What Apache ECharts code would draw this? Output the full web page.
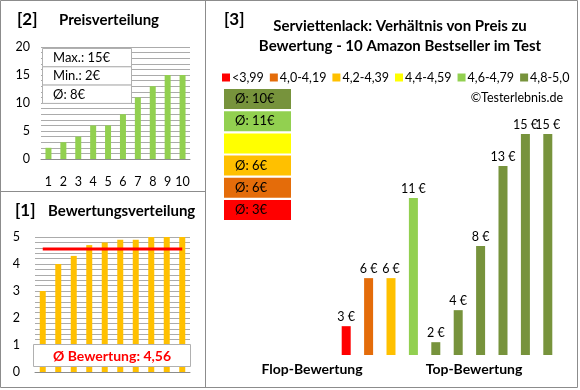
<!DOCTYPE html>
<html><head><meta charset="utf-8">
<script src="https://cdn.jsdelivr.net/npm/echarts@6/dist/echarts.min.js"></script>
<style>html,body{margin:0;padding:0;background:#fff}#c{width:580px;height:390px}</style>
</head><body><div id="c"></div>
<script>
const priceCats = ['1','2','3','4','5','6','7','8','9','10'];
const priceValues = [2,3,4,6,6,8,11,13,15,15];
const ratingValues = [3.0,4.0,4.3,4.7,4.8,4.9,4.9,5.0,5.0,5.0];
const mainPrices = [3,6,6,11,2,4,8,13,15,15];
const mainGroups = [0,1,2,4,5,5,5,5,5,5];
const groupNames = ['<3,99','4,0-4,19','4,2-4,39','4,4-4,59','4,6-4,79','4,8-5,0'];
const groupColors = ['#FF0000','#E46C0A','#FFC000','#FFFF00','#92D050','#77933C'];
const priceTicks = [0,5,10,15,20];
const ratingTicks = [0,1,2,3,4,5];

const FONT = 'Lato';
const maxP = Math.max(...priceValues), minP = Math.min(...priceValues);
const avgP = Math.round(priceValues.reduce((a,b)=>a+b,0)/priceValues.length);
const avgR = ratingValues.reduce((a,b)=>a+b,0)/ratingValues.length;
const groupAvg = groupNames.map((n,g)=>{
  const v = mainPrices.filter((p,i)=>mainGroups[i]===g);
  return v.length ? 'Ø: ' + Math.round(v.reduce((a,b)=>a+b,0)/v.length) + '€' : '';
});

const chart = echarts.init(document.getElementById('c'));
const gridLine = {show:true, lineStyle:{color:'#ababab', width:1}};
const graphics = [];
const border = '#8c8c8c';
// panel borders
graphics.push({type:'rect', shape:{x:0.5,y:0.5,width:577,height:387}, style:{fill:null, stroke:border, lineWidth:1}, silent:true});
graphics.push({type:'line', shape:{x1:205.5,y1:0,x2:205.5,y2:388}, style:{stroke:border, lineWidth:1}, silent:true});
graphics.push({type:'line', shape:{x1:0,y1:191.5,x2:205,y2:191.5}, style:{stroke:border, lineWidth:1}, silent:true});
// titles
function txt(x,y,t,size,bold,color,align){
  graphics.push({type:'text', x:x, y:y, z:10, style:{text:t, font:(bold?'bold ':'')+size+'px '+FONT, fill:color||'#000', textAlign:align||'left', textVerticalAlign:'middle'}});
}
txt(17,20,'[2]',17,true);
txt(59,20,'Preisverteilung',15,true);
txt(15,211,'[1]',17,true);
txt(48,211,'Bewertungsverteilung',15,true);
txt(224,20,'[3]',17,true);
txt(400,26,'Serviettenlack: Verhältnis von Preis zu',15,true,'#000','center');
txt(400,46,'Bewertung - 10 Amazon Bestseller im Test',15,true,'#000','center');
txt(563,98,'©Testerlebnis.de',12.5,false,'#000','right');
txt(312,369,'Flop-Bewertung',14,true,'#000','center');
txt(474,369,'Top-Bewertung',14,true,'#000','center');
// price summary box
const sumRows = ['Max.: '+maxP+'€','Min.: '+minP+'€','Ø: '+avgP+'€'];
sumRows.forEach((t,i)=>{
  graphics.push({type:'rect', z:9, shape:{x:42.5,y:48.5+i*18.3,width:89,height:18.3}, style:{fill:'#fff', stroke:'#b0b0b0', lineWidth:1}});
  txt(53,58+i*18.3,t,13,false);
});
// rating avg box
graphics.push({type:'rect', z:9, shape:{x:33.5,y:344.5,width:157,height:22}, style:{fill:'#fff', stroke:'#b0b0b0', lineWidth:1}});
txt(112,356,'Ø Bewertung: '+avgR.toFixed(2).replace('.',','),14,true,'#FF0000','center');
// group boxes (top = best group)
for(let k=0;k<6;k++){
  const g = 5-k;
  graphics.push({type:'rect', z:9, shape:{x:224,y:89+k*22.2,width:67,height:20}, style:{fill:groupColors[g]}});
  if(groupAvg[g]) txt(235,99+k*22.2,groupAvg[g],13,false);
}

const legendSeries = groupNames.map((n,g)=>({name:n, type:'line', xAxisIndex:2, yAxisIndex:2, data:[], color:groupColors[g], symbol:'none'}));

chart.setOption({
  animation:false,
  textStyle:{fontFamily:FONT},
  graphic:graphics,
  legend:{left:222, top:71, width:400, padding:0, itemWidth:8, itemHeight:8, itemGap:6, icon:'rect',
    textStyle:{fontFamily:FONT, fontSize:12.5, color:'#000', padding:[0,0,0,-3]}, data:groupNames, selectedMode:false},
  grid:[
    {left:41, top:47, width:149, height:112},
    {left:35, top:237, width:155, height:135},
    {left:335, top:118, width:224, height:237}
  ],
  xAxis:[
    {gridIndex:0, type:'category', data:priceCats, axisTick:{show:false}, axisLine:{lineStyle:{color:'#8c8c8c'}},
      axisLabel:{margin:16, color:'#000', fontSize:12.5, fontFamily:FONT, interval:0}},
    {gridIndex:1, type:'category', data:priceCats, axisTick:{show:false}, axisLine:{lineStyle:{color:'#8c8c8c'}}, axisLabel:{show:false}},
    {gridIndex:2, type:'category', data:priceCats, axisTick:{show:false}, axisLine:{show:false}, axisLabel:{show:false}}
  ],
  yAxis:[
    {gridIndex:0, type:'value', min:0, max:20, interval:1, splitLine:gridLine, axisLine:{show:false}, axisTick:{show:false},
      axisLabel:{margin:11, color:'#000', fontSize:12.5, fontFamily:FONT, formatter:v=>priceTicks.includes(v)?String(v):''}},
    {gridIndex:1, type:'value', min:0, max:5, interval:0.2, splitLine:gridLine, axisLine:{show:false}, axisTick:{show:false},
      axisLabel:{margin:15, color:'#000', fontSize:12.5, fontFamily:FONT, formatter:v=>ratingTicks.some(t=>Math.abs(t-v)<1e-6)?String(Math.round(v)):''}},
    {gridIndex:2, type:'value', min:1.2, max:16, show:false, splitLine:{show:false}}
  ],
  series:[
    {type:'bar', xAxisIndex:0, yAxisIndex:0, data:priceValues, barWidth:6, itemStyle:{color:'#92D050'}},
    {type:'bar', xAxisIndex:1, yAxisIndex:1, data:ratingValues, barWidth:6, itemStyle:{color:'#FFC000'}},
    {type:'line', xAxisIndex:1, yAxisIndex:1, data:ratingValues.map(()=>+avgR.toFixed(2)), symbol:'none', lineStyle:{color:'#FF0000', width:3}, z:5},
    {type:'bar', xAxisIndex:2, yAxisIndex:2, barWidth:9,
      data:mainPrices.map((v,i)=>({value:v, itemStyle:{color:groupColors[mainGroups[i]]}})),
      label:{show:true, position:'top', distance:3, formatter:p=>p.value+' €', color:'#000', fontSize:12.5, fontFamily:FONT}},
    ...legendSeries
  ]
});
</script></body></html>
